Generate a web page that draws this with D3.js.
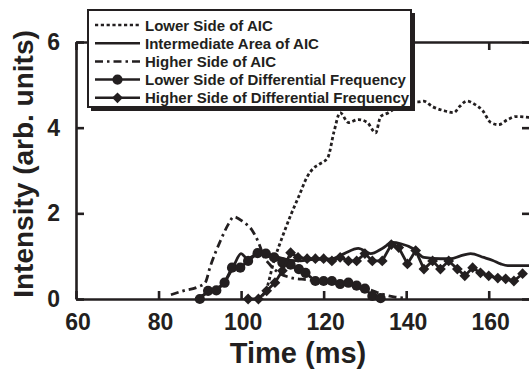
<!DOCTYPE html>
<html>
<head>
<meta charset="utf-8">
<script src="https://cdn.jsdelivr.net/npm/d3@7"></script>
<style>
  body { margin: 0; background: #fff; }
  svg { display: block; }
  text { font-family: "Liberation Sans", Arial, sans-serif; font-weight: bold; fill: #231f20; }
</style>
</head>
<body>
<div id="chart"></div>
<script>
// x ticks (ms) and y ticks (arb. units)
const xTicks = [60, 80, 100, 120, 140, 160];
const yTicks = [0, 2, 4, 6];

// Lower Side of AIC (dotted)
const lowerAicTime = [104, 106, 108, 110, 112, 114, 116, 117.5, 119, 121, 122.5, 124, 126, 128.4, 130.6, 132.6, 133.8, 135.7, 138, 140.5, 142.8, 144.2, 146.4, 149, 151.5, 153, 154.7, 156.5, 158.5, 160.5, 162.4, 164.6, 166.6, 170];
const lowerAicValue = [0, 0.2, 0.9, 1.45, 1.95, 2.4, 2.85, 3.05, 3.15, 3.3, 3.9, 4.35, 4.12, 4.19, 4.12, 3.88, 4.26, 4.35, 4.5, 4.6, 4.6, 4.62, 4.49, 4.4, 4.35, 4.5, 4.62, 4.55, 4.4, 4.12, 4.07, 4.19, 4.26, 4.24];

// Intermediate Area of AIC (solid)
const midAicTime = [89, 91, 93, 95.7, 98, 100, 101.5, 103.9, 105.5, 108, 110, 112, 114.4, 117, 120, 122.5, 125, 128.4, 131.4, 134.2, 136.7, 138.7, 141.6, 144.3, 148.3, 150.8, 153, 155.6, 158.8, 161, 162.9, 164.6, 167, 170];
const midAicValue = [0, 0.1, 0.2, 0.35, 0.73, 1.06, 0.94, 1.06, 1.08, 1.0, 0.95, 0.9, 0.89, 0.92, 0.93, 0.95, 1.06, 1.18, 1.06, 1.18, 1.32, 1.29, 1.18, 0.97, 0.94, 0.94, 1.0, 1.06, 0.97, 0.9, 0.82, 0.78, 0.78, 0.78];

// Higher Side of AIC (dash-dot)
const higherAicTime = [83, 86, 89.5, 91.3, 92.5, 95, 97, 98.2, 100.5, 102.7, 104.3, 105.5, 107, 109, 112, 116, 120, 124, 128, 131, 134, 137, 140];
const higherAicValue = [0.1, 0.19, 0.28, 0.38, 0.75, 1.36, 1.76, 1.92, 1.8, 1.6, 1.3, 1.0, 0.8, 0.62, 0.5, 0.45, 0.4, 0.35, 0.28, 0.22, 0.12, 0.05, 0.02];

// Lower Side of Differential Frequency (circles)
const lowerDfTime = [90, 92, 94, 96, 97.8, 99.8, 101.7, 104, 106, 108, 110, 112, 114, 115.6, 118, 120, 122, 124, 126, 128, 130, 131.8, 133.8];
const lowerDfValue = [0, 0.19, 0.2, 0.38, 0.73, 0.73, 0.89, 1.07, 1.06, 0.97, 0.85, 0.8, 0.7, 0.61, 0.42, 0.42, 0.42, 0.35, 0.38, 0.31, 0.24, 0.07, 0.02];

// Higher Side of Differential Frequency (diamonds)
const higherDfTime = [101.7, 104.2, 106.2, 108.2, 110, 112, 113.8, 116, 118, 120, 122, 124, 126, 128, 130, 131.8, 134.2, 136.4, 138.2, 140.3, 142.3, 144.3, 146.4, 148.3, 150.3, 152.4, 154.2, 156.1, 158, 160, 162.2, 164.1, 166.1, 168.2];
const higherDfValue = [0, 0, 0.19, 0.38, 0.66, 1.08, 0.97, 0.94, 0.94, 0.94, 0.89, 0.97, 0.89, 0.89, 1.06, 0.89, 0.89, 1.27, 1.2, 0.82, 1.13, 0.7, 0.89, 0.7, 0.89, 0.7, 0.54, 0.73, 0.61, 0.54, 0.49, 0.47, 0.42, 0.59];

const legendLabels = ["Lower Side of AIC", "Intermediate Area of AIC", "Higher Side of  AIC",
  "Lower Side of Differential Frequency", "Higher Side of Differential Frequency"];

const ink = "#231f20";
const width = 529, height = 370;
const margin = {left: 76, right: 530, top: 42, bottom: 299};

const zip = (ts, vs) => ts.map((t, i) => ({t: t, v: vs[i]}));

const series = [
  {data: zip(lowerAicTime, lowerAicValue), dash: "3.2,2.6", curve: d3.curveMonotoneX, marker: null},
  {data: zip(midAicTime, midAicValue), dash: null, curve: d3.curveMonotoneX, marker: null},
  {data: zip(higherAicTime, higherAicValue), dash: "8,4,2.5,4", curve: d3.curveMonotoneX, marker: null},
  {data: zip(lowerDfTime, lowerDfValue), dash: null, curve: d3.curveLinear, marker: "circle"},
  {data: zip(higherDfTime, higherDfValue), dash: null, curve: d3.curveLinear, marker: "diamond"}
];

const x = d3.scaleLinear().domain([60, 170]).range([margin.left, margin.right]);
const y = d3.scaleLinear().domain([0, 6]).range([margin.bottom, margin.top]);

const svg = d3.select("#chart").append("svg")
  .attr("width", width)
  .attr("height", height);

const circleSym = d3.symbol().type(d3.symbolCircle).size(82);
const diamondSym = d3.symbol().type(d3.symbolSquare).size(58);

function drawMarker(g, kind, cx, cy) {
  if (kind == "circle") {
    g.append("path").attr("d", circleSym()).attr("fill", ink)
      .attr("transform", "translate(" + cx + "," + cy + ")");
  } else if (kind == "diamond") {
    g.append("path").attr("d", diamondSym()).attr("fill", ink)
      .attr("transform", "translate(" + cx + "," + cy + ") rotate(45)");
  }
}

// frame with inward ticks
const axes = svg.append("g");
axes.append("g").attr("transform", "translate(0," + margin.bottom + ")")
  .call(d3.axisBottom(x).tickValues(xTicks).tickSizeInner(-8).tickSizeOuter(0).tickFormat(""));
axes.append("g").attr("transform", "translate(0," + margin.top + ")")
  .call(d3.axisTop(x).tickValues(xTicks).tickSizeInner(-8).tickSizeOuter(0).tickFormat(""));
axes.append("g").attr("transform", "translate(" + margin.left + ",0)")
  .call(d3.axisLeft(y).tickValues(yTicks).tickSizeInner(-8).tickSizeOuter(0).tickFormat(""));
axes.append("g").attr("transform", "translate(" + margin.right + ",0)")
  .call(d3.axisRight(y).tickValues(yTicks).tickSizeInner(-8).tickSizeOuter(0).tickFormat(""));
axes.selectAll("path.domain, line").attr("stroke", ink).attr("stroke-width", 2.6);

// tick labels
svg.append("g").selectAll("text").data(xTicks).join("text")
  .attr("x", d => x(d) + 2)
  .attr("y", 330)
  .attr("text-anchor", "middle")
  .attr("font-size", 23)
  .text(d => d);
svg.append("g").selectAll("text").data(yTicks).join("text")
  .attr("x", 60)
  .attr("y", d => y(d) + 8)
  .attr("text-anchor", "end")
  .attr("font-size", 23)
  .text(d => d);

// axis titles
svg.append("text")
  .attr("x", 298).attr("y", 363)
  .attr("text-anchor", "middle")
  .attr("font-size", 29)
  .text("Time (ms)");
svg.append("text")
  .attr("transform", "translate(33,164) rotate(-90)")
  .attr("text-anchor", "middle")
  .attr("font-size", 28)
  .text("Intensity (arb. units)");

// data
const plot = svg.append("g");
series.forEach(s => {
  let line = d3.line()
    .x(d => x(d.t))
    .y(d => y(d.v))
    .curve(s.curve);
  plot.append("path")
    .datum(s.data)
    .attr("fill", "none")
    .attr("stroke", ink)
    .attr("stroke-width", 2.8)
    .attr("stroke-dasharray", s.dash)
    .attr("d", line);
  if (s.marker) {
    s.data.forEach(d => drawMarker(plot, s.marker, x(d.t), y(d.v)));
  }
});

// legend box with drop shadow
const legend = svg.append("g");
legend.append("rect").attr("x", 91).attr("y", 13).attr("width", 324).attr("height", 98).attr("fill", ink);
legend.append("rect").attr("x", 88).attr("y", 10).attr("width", 323).attr("height", 97)
  .attr("fill", "#fff").attr("stroke", ink).attr("stroke-width", 2);

legendLabels.forEach((label, i) => {
  let ly = 25 + i * 18.2;
  let s = series[i];
  legend.append("line")
    .attr("x1", 95).attr("x2", 140).attr("y1", ly).attr("y2", ly)
    .attr("stroke", ink).attr("stroke-width", 2.5)
    .attr("stroke-dasharray", s.dash);
  if (s.marker) drawMarker(legend, s.marker, 117.5, ly);
  legend.append("text")
    .attr("x", 145).attr("y", ly + 5.5)
    .attr("font-size", 15)
    .text(label);
});
</script>
</body>
</html>
